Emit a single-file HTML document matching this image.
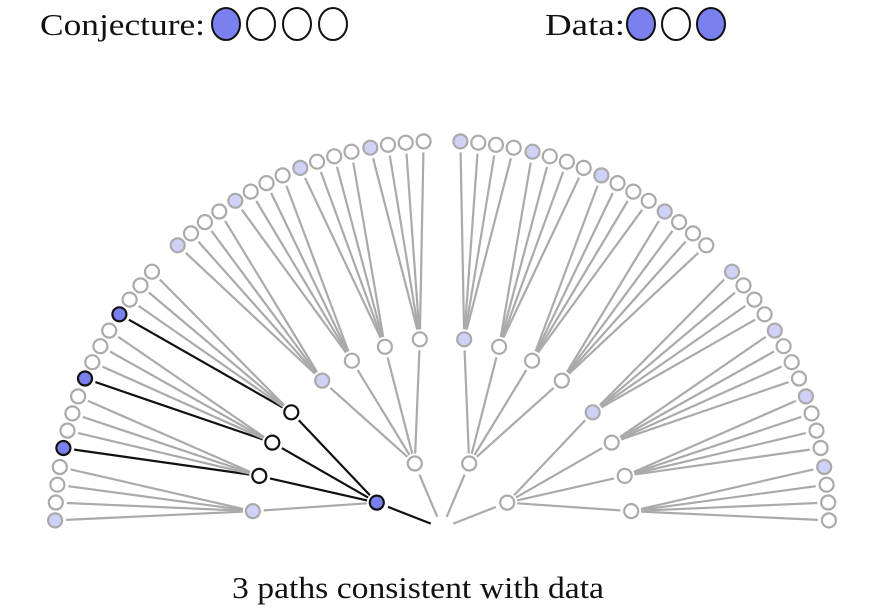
<!DOCTYPE html>
<html><head><meta charset="utf-8"><style>
html,body{margin:0;padding:0;background:#fff;}
svg{display:block;}
text{font-family:"Liberation Serif",serif;fill:#111;}
</style></head><body>
<svg id="s" width="875" height="615" viewBox="0 0 875 615" xmlns="http://www.w3.org/2000/svg">
<text x="40" y="35" font-size="31" textLength="165" lengthAdjust="spacingAndGlyphs">Conjecture:</text>
<ellipse cx="226" cy="24" rx="14" ry="16" fill="#7b80f0" stroke="#111" stroke-width="2"/>
<ellipse cx="261" cy="24" rx="14" ry="16" fill="#fff" stroke="#111" stroke-width="2"/>
<ellipse cx="297" cy="24" rx="14" ry="16" fill="#fff" stroke="#111" stroke-width="2"/>
<ellipse cx="333" cy="24" rx="14" ry="16" fill="#fff" stroke="#111" stroke-width="2"/>
<text x="545" y="35" font-size="31" textLength="80" lengthAdjust="spacingAndGlyphs">Data:</text>
<ellipse cx="641" cy="24" rx="14" ry="16" fill="#7b80f0" stroke="#111" stroke-width="2"/>
<ellipse cx="676" cy="24" rx="14" ry="16" fill="#fff" stroke="#111" stroke-width="2"/>
<ellipse cx="711" cy="24" rx="14" ry="16" fill="#7b80f0" stroke="#111" stroke-width="2"/>
<text x="418" y="598" font-size="31" text-anchor="middle" textLength="372" lengthAdjust="spacingAndGlyphs">3 paths consistent with data</text>
<g id="tree"></g>
</svg>
<script>
(function(){
var cx=442,cy=528,R1=70,R2=190,R3=387,G=45.8,S2=10.8,S3=2.65;
var lines='',circs='';
function pt(a,r){var t=a*Math.PI/180;return [cx-r*Math.cos(t),cy-r*Math.sin(t)];}
function seg(p,q,g1,g2,col){var dx=q[0]-p[0],dy=q[1]-p[1],L=Math.sqrt(dx*dx+dy*dy);
var ux=dx/L,uy=dy/L;
lines+='<line x1="'+(p[0]+ux*g1).toFixed(1)+'" y1="'+(p[1]+uy*g1).toFixed(1)+'" x2="'+(q[0]-ux*g2).toFixed(1)+'" y2="'+(q[1]-uy*g2).toFixed(1)+'" stroke="'+col+'" stroke-width="2.2"/>';}
function circ(p,type){var f,s;
if(type=='hb'){f='#7b80f0';s='#111';}else if(type=='hw'){f='#fff';s='#111';}
else if(type=='b'){f='#d0d1f6';s='#aaa';}else{f='#fff';s='#aaa';}
circs+='<circle cx="'+p[0].toFixed(1)+'" cy="'+p[1].toFixed(1)+'" r="7" fill="'+f+'" stroke="'+s+'" stroke-width="2.2"/>';}
var root=[cx,cy];
for(var g=0;g<4;g++){
 var a1=90+(g-1.5)*G,p1=pt(a1,R1),h1=(g==0);
 seg(root,p1,12,12,h1?'#111':'#aaa');
 circ(p1,h1?'hb':(g==0?'b':'w'));
 for(var k=0;k<4;k++){
  var a2=a1+(k-1.5)*S2,p2=pt(a2,R2),h2=h1&&k>0;
  seg(p1,p2,10,11,h2?'#111':'#aaa');
  circ(p2,h2?'hw':(k==0?'b':'w'));
  for(var j=0;j<4;j++){
   var a3=a2+(j-1.5)*S3,p3=pt(a3,R3),h3=h2&&j==0;
   seg(p2,p3,10,11,h3?'#111':'#aaa');
   circ(p3,h3?'hb':(j==0?'b':'w'));
  }
 }
}
document.getElementById('tree').innerHTML=lines+circs;
})();
</script>
</body></html>
